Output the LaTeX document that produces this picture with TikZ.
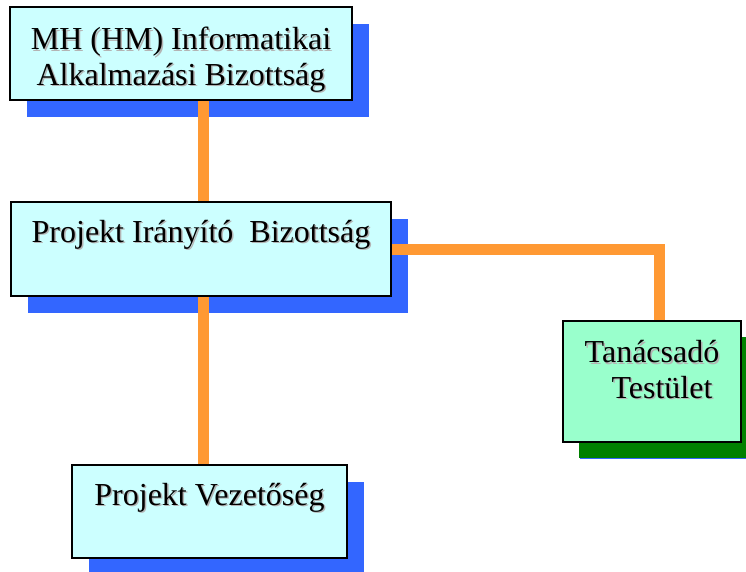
\documentclass[tikz,border=0pt]{standalone}
\usepackage{fontspec}
\setmainfont{Liberation Serif}
\usetikzlibrary{shadows}
\definecolor{boxcyan}{HTML}{CCFFFF}
\definecolor{boxgreen}{HTML}{99FFCC}
\definecolor{shblue}{HTML}{3366FF}
\definecolor{shgreen}{HTML}{008000}
\definecolor{linkorange}{HTML}{FF9933}
\definecolor{txtgray}{HTML}{B4B4B4}
\newcommand{\shd}[1]{\rlap{\hspace{1.5pt}\raisebox{-1.5pt}{\color{txtgray}#1}}#1}
\begin{document}
\begin{tikzpicture}[x=1pt,y=-1pt,
	unit/.style={draw=black,line width=1.8pt,fill=boxcyan,inner sep=0pt,align=center,
		font=\fontsize{32}{35.5}\selectfont,
		drop shadow={shadow xshift=17pt,shadow yshift=-17pt,fill=shblue,opacity=1}},
	advisor/.style={unit,fill=boxgreen,
		drop shadow={shadow xshift=16pt,shadow yshift=-16pt,fill=shgreen,opacity=1}},
	link/.style={draw=linkorange,line width=11pt}]
				\useasboundingbox (0,0) rectangle (746,571);
				\node[unit,minimum width=342pt,text height=78pt,text depth=15pt] (mh) at (181,53.5)
					{\shd{MH (HM) Informatikai}\\\shd{Alkalmazási Bizottság}};
				\node[unit,minimum width=380pt,text height=40pt,text depth=54pt] (pib) at (201,249)
					{\shd{Projekt Irányító\ \ Bizottság}};
				\node[advisor,minimum width=178pt,text height=77pt,text depth=44pt] (tt) at (652,381.5)
					{\shd{Tanácsadó}\\\hspace*{20pt}\shd{Testület}};
				\node[unit,minimum width=275pt,text height=40pt,text depth=53pt] (pv) at (209.5,511.5)
					{\shd{Projekt Vezetőség}};
				\draw[link] ([xshift=22pt]mh.south) -- ([xshift=22pt]mh.south |- pib.north);
				\draw[link] ([xshift=2pt]pib.south) -- ([xshift=2pt]pib.south |- pv.north);
				\draw[link] (pib.east) -| ([xshift=7pt]tt.north);
			\end{tikzpicture}
\end{document}
